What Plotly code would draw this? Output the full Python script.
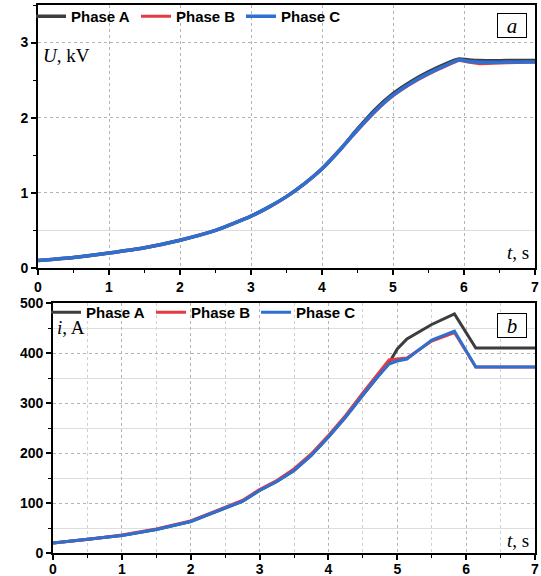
import plotly.graph_objects as go

# ---------------- data ----------------
t_u = [0, 0.5, 1, 1.5, 2, 2.5, 3, 3.25, 3.5, 3.75, 4, 4.25, 4.5, 4.75, 5, 5.25, 5.5, 5.75, 5.93, 6.05, 6.2, 6.6, 7]
u_a = [0.10, 0.14, 0.20, 0.27, 0.37, 0.50, 0.69, 0.81, 0.95, 1.12, 1.32, 1.57, 1.85, 2.11, 2.32, 2.48, 2.61, 2.72, 2.78, 2.77, 2.76, 2.76, 2.76]
u_b = [0.10, 0.14, 0.20, 0.27, 0.37, 0.50, 0.69, 0.81, 0.95, 1.12, 1.32, 1.57, 1.83, 2.08, 2.29, 2.45, 2.58, 2.69, 2.76, 2.74, 2.72, 2.73, 2.74]
u_c = [0.10, 0.14, 0.20, 0.27, 0.37, 0.50, 0.69, 0.81, 0.95, 1.12, 1.32, 1.57, 1.84, 2.09, 2.30, 2.46, 2.59, 2.70, 2.77, 2.75, 2.74, 2.74, 2.74]

t_i = [0, 0.5, 1, 1.5, 2, 2.5, 2.75, 3, 3.25, 3.5, 3.75, 4, 4.25, 4.5, 4.7, 4.88, 5.0, 5.14, 5.5, 5.83, 6.14, 7]
i_a = [20, 27, 35, 47, 63, 90, 103, 125, 143, 165, 195, 232, 272, 316, 350, 380, 408, 428, 457, 478, 410, 410]
i_b = [20, 27, 36, 48, 64, 92, 105, 127, 145, 168, 198, 235, 275, 320, 355, 386, 388, 390, 424, 441, 372, 372]
i_c = [20, 27, 35, 47, 63, 90, 103, 125, 143, 165, 195, 232, 272, 316, 350, 378, 384, 388, 426, 444, 372, 372]

names = ["Phase A", "Phase B", "Phase C"]
colors = ["#3d3d3d", "#e23b40", "#2e6fd2"]

# ---------------- figure ----------------
fig = go.Figure()
for name, col, y in zip(names, colors, [u_a, u_b, u_c]):
    fig.add_trace(go.Scatter(x=t_u, y=y, mode="lines", name=name,
                             line=dict(color=col, width=3.5 if name != "Phase B" else 3,
                                       shape="spline", smoothing=0.5),
                             xaxis="x", yaxis="y", legend="legend"))
for name, col, y in zip(names, colors, [i_a, i_b, i_c]):
    fig.add_trace(go.Scatter(x=t_i, y=y, mode="lines", name=name,
                             line=dict(color=col, width=3),
                             xaxis="x2", yaxis="y2", legend="legend2"))

W, H = 541, 576
def px(x):
    return x / W
def py(y):
    return 1 - y / H

tickfont = dict(family="Liberation Sans, Arial", size=14, color="black", weight="bold")
axis_common = dict(showline=True, linecolor="black", linewidth=1.6, mirror=True,
                   ticks="outside", ticklen=5, tickwidth=1.5, tickcolor="black",
                   tickfont=tickfont, zeroline=False,
                   showgrid=True, gridcolor="#b4b4b4", gridwidth=1, griddash="dot")

top_l, top_r, top_t, top_b = 38, 535, 5, 268
bot_l, bot_r, bot_t, bot_b = 53, 535, 303, 553

legfont = dict(family="Liberation Sans, Arial", size=15, color="black", weight="bold")

fig.update_layout(
    width=W, height=H,
    margin=dict(l=0, r=0, t=0, b=0, autoexpand=False),
    paper_bgcolor="white", plot_bgcolor="white",
    xaxis=dict(axis_common, domain=[px(top_l), px(top_r)], range=[0, 7], dtick=1,
               anchor="y",
               minor=dict(dtick=0.5, ticks="outside", ticklen=3, tickwidth=1.2, tickcolor="black", showgrid=False)),
    yaxis=dict(axis_common, domain=[py(top_b), py(top_t)], range=[0, 3.5], dtick=1,
               anchor="x", tickvals=[0, 1, 2, 3],
               minor=dict(dtick=0.5, ticks="outside", ticklen=3, tickwidth=1.2, tickcolor="black", showgrid=False)),
    xaxis2=dict(axis_common, domain=[px(bot_l), px(bot_r)], range=[0, 7], dtick=1,
                anchor="y2", ticklabelstandoff=-3,
                minor=dict(dtick=0.5, ticks="outside", ticklen=3, tickwidth=1.2, tickcolor="black",
                           showgrid=True, gridcolor="#d0d0d0", griddash="dot", gridwidth=1)),
    yaxis2=dict(axis_common, domain=[py(bot_b), py(bot_t)], range=[0, 500], dtick=100,
                anchor="x2",
                minor=dict(dtick=50, ticks="outside", ticklen=3, tickwidth=1.2, tickcolor="black",
                           showgrid=True, gridcolor="#dedede", griddash="solid", gridwidth=1)),
    legend=dict(orientation="h", x=px(top_l - 7), xanchor="left", y=py(top_t - 5), yanchor="top",
                bgcolor="rgba(0,0,0,0)", borderwidth=0, font=legfont,
                itemwidth=30, tracegroupgap=0, entrywidth=60, entrywidthmode="pixels"),
    legend2=dict(orientation="h", x=px(bot_l - 7), xanchor="left", y=py(bot_t - 7), yanchor="top",
                 bgcolor="rgba(0,0,0,0)", borderwidth=0, font=legfont,
                 itemwidth=30, tracegroupgap=0, entrywidth=60, entrywidthmode="pixels"),
    showlegend=True,
)

# light solid line at 0.5 kV in the top panel
fig.add_shape(type="line", xref="x domain", yref="y", x0=0, x1=1, y0=0.5, y1=0.5,
              line=dict(color="#dcdcdc", width=1), layer="below")

serif = "Liberation Serif, Times New Roman"
ann = [
    dict(text="<i>U</i>, kV", x=px(top_l + 3), y=py(56), xanchor="left", yanchor="middle"),
    dict(text="<i>t</i>, s", x=px(top_r - 4), y=py(252), xanchor="right", yanchor="middle"),
    dict(text="<i>i</i>, A", x=px(bot_l + 2), y=py(327), xanchor="left", yanchor="middle"),
    dict(text="<i>t</i>, s", x=px(bot_r - 4), y=py(540), xanchor="right", yanchor="middle"),
]
for a in ann:
    fig.add_annotation(xref="paper", yref="paper", showarrow=False,
                       font=dict(family=serif, size=19, color="black"), **a)

for lbl, yc in [("a", 26), ("b", 325)]:
    fig.add_annotation(xref="paper", yref="paper", showarrow=False,
                       text="<i>%s</i>" % lbl, x=px(512), y=py(yc), xanchor="center", yanchor="middle",
                       font=dict(family=serif, size=21, color="black"),
                       bordercolor="black", borderwidth=1, borderpad=2, width=24, height=19,
                       bgcolor="white")

fig.write_html("out.html")
